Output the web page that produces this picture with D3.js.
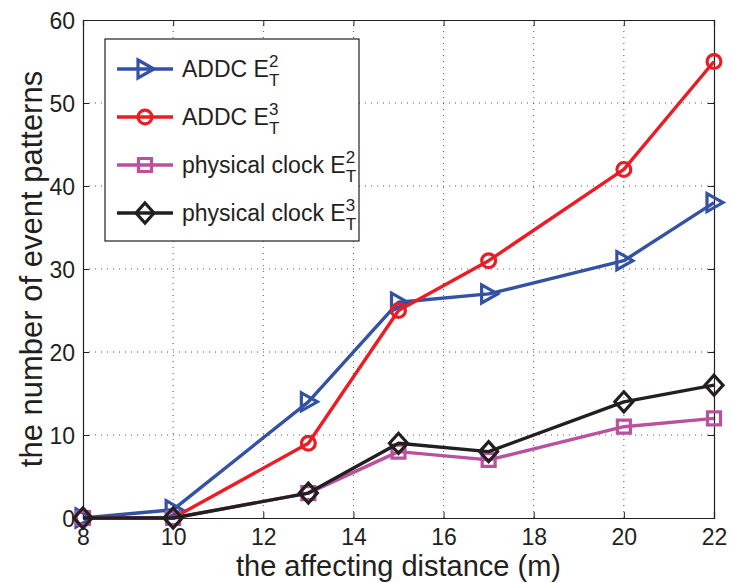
<!DOCTYPE html>
<html>
<head>
<meta charset="utf-8">
<script src="https://cdn.jsdelivr.net/npm/d3@7"></script>
<style>
  body { margin: 0; background: #fff; }
  text { font-family: "Liberation Sans", Arial, sans-serif; fill: #231f20; }
</style>
</head>
<body>
<div class="canvas"></div>
<script>
const xValues = [8, 10, 13, 15, 17, 20, 22];
const addcE2 = [0, 1, 14, 26, 27, 31, 38];
const addcE3 = [0, 0, 9, 25, 31, 42, 55];
const physE2 = [0, 0, 3, 8, 7, 11, 12];
const physE3 = [0, 0, 3, 9, 8, 14, 16];
const xTicks = [8, 10, 12, 14, 16, 18, 20, 22];
const yTicks = [0, 10, 20, 30, 40, 50, 60];

const series = [
  { name: "ADDC", sup: "2", values: addcE2, color: "#3452a4", marker: "triangle" },
  { name: "ADDC", sup: "3", values: addcE3, color: "#ec1c24", marker: "circle" },
  { name: "physical clock", sup: "2", values: physE2, color: "#b9519f", marker: "square" },
  { name: "physical clock", sup: "3", values: physE3, color: "#231f20", marker: "diamond" },
];

const W = 732, H = 583;
const m = { left: 83, right: 18, top: 20, bottom: 65 };
const svg = d3.select(".canvas").append("svg").attr("width", W).attr("height", H);

const x = d3.scaleLinear().domain([8, 22]).range([m.left, W - m.right]);
const y = d3.scaleLinear().domain([0, 60]).range([H - m.bottom, m.top]);

// grid
const grid = svg.append("g").attr("stroke", "#555").attr("stroke-width", 1).attr("stroke-dasharray", "1,5");
grid.selectAll(".gx").data(xTicks.slice(1, -1)).join("line")
  .attr("x1", d => x(d)).attr("x2", d => x(d)).attr("y1", y(0)).attr("y2", y(60));
grid.selectAll(".gy").data(yTicks.slice(1, -1)).join("line")
  .attr("x1", x(8)).attr("x2", x(22)).attr("y1", d => y(d)).attr("y2", d => y(d));

// axes with inward ticks
const tickFont = g => g.selectAll("text").style("font-size", "23px").attr("fill", "#231f20");
const xAxis = svg.append("g").attr("transform", `translate(0,${y(0)})`)
  .call(d3.axisBottom(x).tickValues(xTicks).tickSize(-6).tickPadding(11))
  .call(tickFont);
const yAxis = svg.append("g").attr("transform", `translate(${x(8)},0)`)
  .call(d3.axisLeft(y).tickValues(yTicks).tickSize(-6).tickPadding(8))
  .call(tickFont);
svg.append("g").attr("transform", `translate(0,${y(60)})`)
  .call(d3.axisTop(x).tickValues(xTicks).tickSize(-6).tickFormat(""));
svg.append("g").attr("transform", `translate(${x(22)},0)`)
  .call(d3.axisRight(y).tickValues(yTicks).tickSize(-6).tickFormat(""));
svg.selectAll(".domain").attr("stroke", "#231f20").attr("stroke-width", 1.2);
svg.selectAll(".tick line").attr("stroke", "#231f20");
yAxis.selectAll("text").attr("dy", "0.36em");
xAxis.selectAll("text").attr("dy", "0.71em");

// labels
svg.append("text").attr("x", (x(8) + x(22)) / 2).attr("y", 576)
  .attr("text-anchor", "middle").style("font-size", "29px").text("the affecting distance (m)");
svg.append("text").attr("transform", `translate(42,${(y(0) + y(60)) / 2}) rotate(-90)`)
  .attr("text-anchor", "middle").style("font-size", "31px").text("the number of event patterns");

const markerPath = (type) => {
  if (type === "triangle") return "M-7,-9 L9,0 L-7,9 Z";
  if (type === "square") return "M-6.5,-6.5 H6.5 V6.5 H-6.5 Z";
  if (type === "diamond") return "M0,-10 L9,0 L0,10 L-9,0 Z";
  return d3.symbol(d3.symbolCircle, 150)();
};

const line = d3.line().x((d, i) => x(xValues[i])).y(d => y(d));
series.forEach(s => {
  const g = svg.append("g");
  g.append("path").datum(s.values).attr("d", line)
    .attr("fill", "none").attr("stroke", s.color).attr("stroke-width", 3.4).attr("stroke-linejoin", "round");
  g.selectAll("path.mk").data(s.values).join("path").attr("class", "mk")
    .attr("transform", (d, i) => `translate(${x(xValues[i])},${y(d)})`)
    .attr("d", markerPath(s.marker))
    .attr("fill", "none").attr("stroke", s.color).attr("stroke-width", 3.2);
});

// legend
const lg = svg.append("g");
lg.append("rect").attr("x", 105).attr("y", 39).attr("width", 254).attr("height", 202)
  .attr("fill", "#fff").attr("stroke", "#231f20").attr("stroke-width", 1.2);
series.forEach((s, i) => {
  const cy = 69 + i * 48;
  lg.append("line").attr("x1", 117).attr("x2", 173).attr("y1", cy).attr("y2", cy)
    .attr("stroke", s.color).attr("stroke-width", 3.4);
  lg.append("path").attr("transform", `translate(145,${cy})`).attr("d", markerPath(s.marker))
    .attr("fill", "none").attr("stroke", s.color).attr("stroke-width", 3.2);
  const t = lg.append("text").attr("x", 182).attr("y", cy + 8).style("font-size", "23px");
  t.append("tspan").text(s.name + " E");
  const ex = 182 + t.node().getComputedTextLength();
  lg.append("text").attr("x", ex).attr("y", cy - 2).style("font-size", "17px").text(s.sup);
  lg.append("text").attr("x", ex).attr("y", cy + 17).style("font-size", "17px").text("T");
});
</script>
</body>
</html>
